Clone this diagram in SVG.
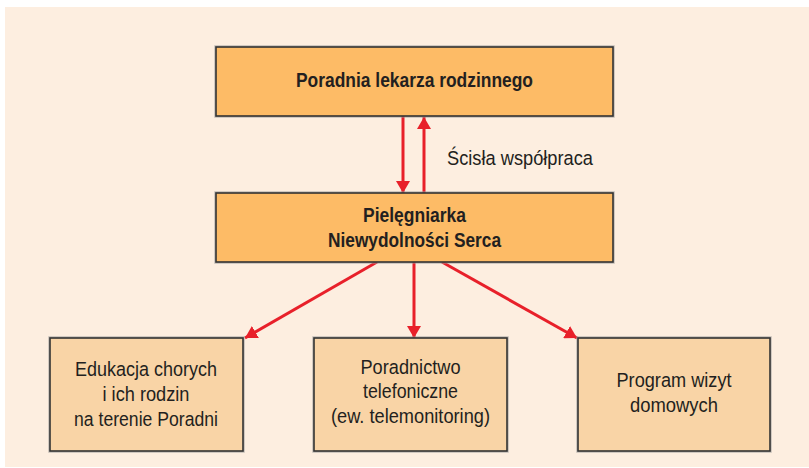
<svg xmlns="http://www.w3.org/2000/svg" width="809" height="468" viewBox="0 0 809 468">
<defs>
<style>
.bg{fill:#FDEEE0}
.main{fill:#FDBB66;stroke:#333;stroke-width:1.6}
.sub{fill:#F9D4A6;stroke:#333;stroke-width:1.6}
.halo{fill:none;stroke:#999;stroke-width:3.5;stroke-opacity:0.6}
.tb{font-family:"Liberation Sans",Arial,sans-serif;font-weight:bold;font-size:20px;fill:#231F20;text-anchor:middle}
.tr{font-family:"Liberation Sans",Arial,sans-serif;font-size:20.5px;fill:#231F20;text-anchor:middle}
.conn{stroke:#E8202A;stroke-width:3;fill:none}
</style>
<marker id="ah" viewBox="0 0 12 14" refX="12" refY="7" markerWidth="12" markerHeight="14" markerUnits="userSpaceOnUse" orient="auto">
<path d="M0,0 L12,7 L0,14 Z" fill="#E8202A"/>
</marker>
</defs>
<rect class="bg" x="5" y="7" width="804" height="460"/>
<g id="connectors">
<line class="conn" x1="403" y1="116" x2="403" y2="193" marker-end="url(#ah)"/>
<line class="conn" x1="424" y1="193" x2="424" y2="117" marker-end="url(#ah)"/>
<line class="conn" x1="377" y1="262" x2="245" y2="338" marker-end="url(#ah)"/>
<line class="conn" x1="414" y1="262" x2="414" y2="338" marker-end="url(#ah)"/>
<line class="conn" x1="442" y1="262" x2="577" y2="338" marker-end="url(#ah)"/>
</g>
<g id="label-cooperation">
<text class="tr" x="520" y="165" textLength="146" lengthAdjust="spacingAndGlyphs">Ścisła współpraca</text>
</g>
<g id="node-poradnia">
<rect class="halo" x="216" y="47" width="397" height="69"/>
<rect class="main" x="216" y="47" width="397" height="69"/>
<text class="tb" x="414.5" y="87" textLength="237" lengthAdjust="spacingAndGlyphs">Poradnia lekarza rodzinnego</text>
</g>
<g id="node-pielegniarka">
<rect class="halo" x="216" y="193" width="397" height="69"/>
<rect class="main" x="216" y="193" width="397" height="69"/>
<text class="tb" x="414.5" y="222" textLength="103" lengthAdjust="spacingAndGlyphs">Pielęgniarka</text>
<text class="tb" x="414.5" y="247" textLength="173" lengthAdjust="spacingAndGlyphs">Niewydolności Serca</text>
</g>
<g id="node-edukacja">
<rect class="halo" x="50" y="338" width="193" height="113"/>
<rect class="sub" x="50" y="338" width="193" height="113"/>
<text class="tr" x="146" y="376" textLength="142" lengthAdjust="spacingAndGlyphs">Edukacja chorych</text>
<text class="tr" x="146" y="401" textLength="87" lengthAdjust="spacingAndGlyphs">i ich rodzin</text>
<text class="tr" x="146" y="426" textLength="144" lengthAdjust="spacingAndGlyphs">na terenie Poradni</text>
</g>
<g id="node-poradnictwo">
<rect class="halo" x="314" y="338" width="193" height="113"/>
<rect class="sub" x="314" y="338" width="193" height="113"/>
<text class="tr" x="410.5" y="374" textLength="100" lengthAdjust="spacingAndGlyphs">Poradnictwo</text>
<text class="tr" x="410.5" y="398" textLength="95" lengthAdjust="spacingAndGlyphs">telefoniczne</text>
<text class="tr" x="410.5" y="423" textLength="159" lengthAdjust="spacingAndGlyphs">(ew. telemonitoring)</text>
</g>
<g id="node-program">
<rect class="halo" x="578" y="338" width="192" height="113"/>
<rect class="sub" x="578" y="338" width="192" height="113"/>
<text class="tr" x="674" y="387" textLength="115" lengthAdjust="spacingAndGlyphs">Program wizyt</text>
<text class="tr" x="674" y="412" textLength="88" lengthAdjust="spacingAndGlyphs">domowych</text>
</g>
</svg>
